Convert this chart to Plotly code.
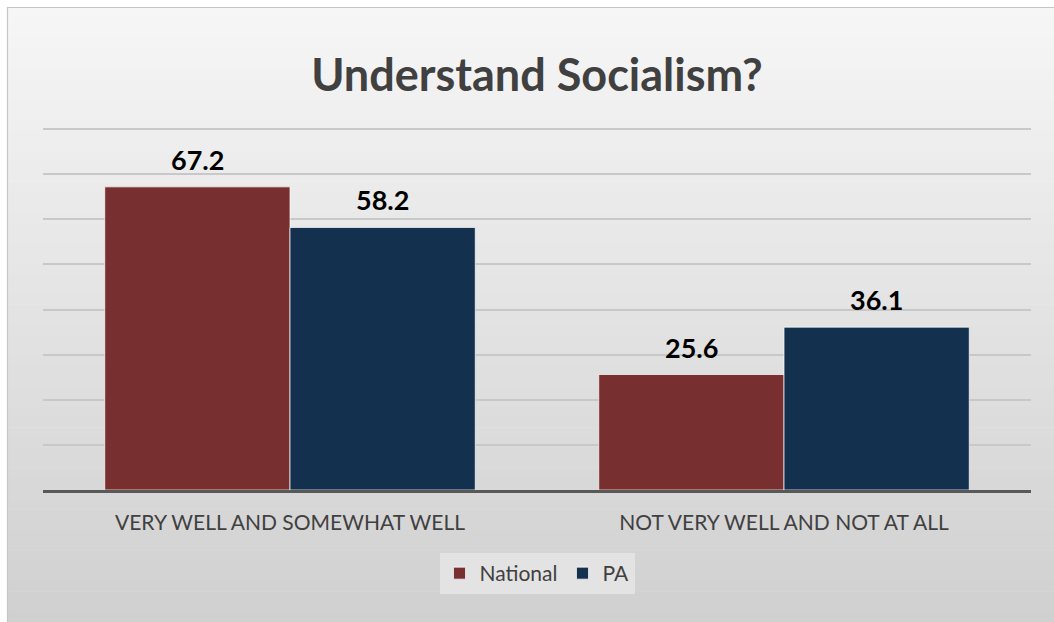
import plotly.graph_objects as go

categories = ["VERY WELL AND SOMEWHAT WELL", "NOT VERY WELL AND NOT AT ALL"]
national = [67.2, 25.6]
pa = [58.2, 36.1]
series_names = ["National", "PA"]
colors = ["#772F2F", "#14304F"]

W, H = 1054, 622
L, R, T, B = 43, 23, 128, 132
plot_h = H - T - B
plot_w = W - L - R
YMAX = 80.25

def py(p):
    return (H - B - p) / plot_h

def px(p):
    return (p - L) / plot_w

fig = go.Figure()
offsets = [-92.6, 92.6]
annotations = []
for name, vals, col, off in zip(series_names, [national, pa], colors, offsets):
    fig.add_trace(go.Bar(
        x=categories, y=vals, name=name,
        marker=dict(color=col, line=dict(color="rgba(255,255,255,0.7)", width=1)),
        cliponaxis=False,
    ))
    for c, v in zip(categories, vals):
        annotations.append(dict(x=c, y=v, xref="x", yref="y", text=f"<b>{v:.1f}</b>",
                                showarrow=False, xshift=off, yshift=9, yanchor="bottom",
                                font=dict(family="Lato", size=27, color="#000000")))

# gradient background bands
shapes = []
n = 60
top, bot = 7, H
for i in range(n):
    y0 = top + (bot - top) * i / n
    y1 = top + (bot - top) * (i + 1) / n
    t = i / (n - 1)
    c = int(round(246 - t * (246 - 208)))
    shapes.append(dict(type="rect", xref="paper", yref="paper",
                       x0=px(7), x1=px(W + 60), y0=py(y1 + 0.5), y1=py(y0),
                       fillcolor=f"rgb({c},{c},{c})", line=dict(width=0), layer="below"))
shapes.append(dict(type="rect", xref="paper", yref="paper",
                   x0=px(7.5), x1=px(W + 60), y0=py(H + 60), y1=py(7.5),
                   fillcolor="rgba(0,0,0,0)", line=dict(color="#c6c6c6", width=1.2), layer="below"))

fig.update_layout(
    width=W, height=H,
    margin=dict(l=L, r=R, t=T, b=B),
    paper_bgcolor="#ffffff",
    plot_bgcolor="rgba(0,0,0,0)",
    barmode="group", bargap=0.25, bargroupgap=0.0,
    title=dict(text="<b>Understand Socialism?</b>", x=0.5, xref="paper", xanchor="center",
               y=1 - 75 / H, yanchor="middle",
               font=dict(family="Lato", size=45, color="#404040")),
    xaxis=dict(showgrid=False, showline=True, linecolor="#595959", linewidth=3, ticks="",
               ticklabelstandoff=12,
               tickfont=dict(family="Lato", size=21, color="#404040")),
    yaxis=dict(range=[0, YMAX], dtick=10, showticklabels=False, showgrid=True,
               gridcolor="#c8c8c8", gridwidth=1.5, zeroline=False, showline=False),
    legend=dict(orientation="h", x=0.5, xanchor="center", y=py(553), yanchor="top",
                bgcolor="#e3e3e3", font=dict(family="Lato", size=21, color="#404040"),
                itemwidth=30, traceorder="normal"),
    shapes=shapes,
    annotations=annotations,
    showlegend=True,
)

fig.write_html("out.html")
